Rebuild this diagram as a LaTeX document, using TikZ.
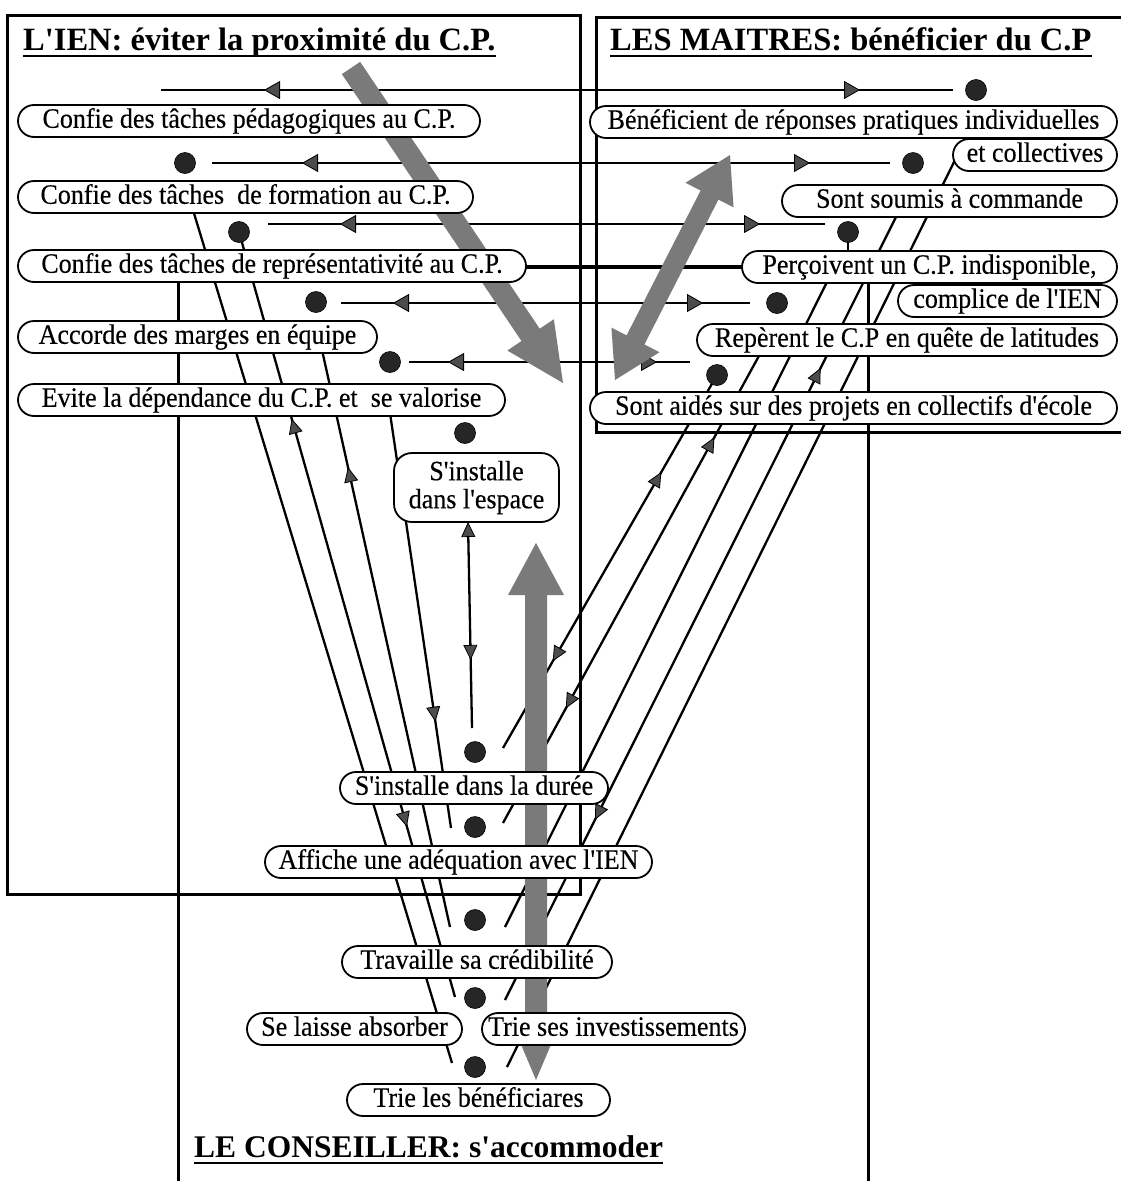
\documentclass[tikz,border=0pt]{standalone}
\usepackage{fontspec}
\setmainfont{Liberation Serif}[Ligatures=TeXOff,FakeStretch=0.93,FakeBold=0.3]
\newfontfamily\ttlfont{Liberation Serif}[Ligatures=TeXOff]
\usetikzlibrary{arrows.meta,calc,decorations.markings}
\tikzset{
  vtip/.tip={Triangle[length=15pt,width=14pt,fill=black!70,line width=0.8pt]},
  rtip/.tip={Triangle[length=16pt,width=18pt,fill=black!70,line width=0.8pt]},
  fa/.style={postaction={decorate,decoration={markings,mark=at position #1 with {\arrow{vtip}}}}},
  ba/.style={postaction={decorate,decoration={markings,mark=at position #1 with {\arrowreversed{vtip}}}}},
  fr/.style={postaction={decorate,decoration={markings,mark=at position #1 with {\arrow{rtip}}}}},
  br/.style={postaction={decorate,decoration={markings,mark=at position #1 with {\arrowreversed{rtip}}}}},
  lab/.style={draw,line width=1.8pt,fill=white,rounded corners=16pt,minimum height=32pt,inner xsep=4pt,inner ysep=0pt,text height=20pt,text depth=6.5pt,font=\fontsize{28}{29}\selectfont},
  espace/.style={draw,line width=1.8pt,fill=white,rounded corners=18pt,minimum width=165pt,minimum height=69pt,align=center,inner sep=2pt,font=\fontsize{28}{28}\selectfont},
  dotn/.style={circle,fill=black!85,draw=black,line width=0.6pt,minimum size=21pt,inner sep=0pt},
  rowline/.style={line width=1.8pt},
  vline/.style={line width=2.3pt},
  boxline/.style={line width=3pt},
  grayfill/.style={fill=black!52},
  ttl/.style={inner sep=0pt,anchor=base west,font=\ttlfont\fontsize{32.5}{34}\selectfont\bfseries},
  uline/.style={line width=2.6pt},
}
\begin{document}
\begin{tikzpicture}[x=1pt,y=-1pt]
\useasboundingbox (0,0) rectangle (1120,1181);
\fill[white] (0,0) rectangle (1120,1181);

% ---------- boxes ----------
\draw[boxline] (7,15) rectangle (580,894);
\draw[boxline] (596,17) rectangle (1140,432);
\draw[boxline] (178,1200) -- (178,267);
\draw[boxline] (868,267) -- (868,1200);
\draw[line width=4pt] (178,267) -- (868,267);

% ---------- coordinates ----------
\coordinate (r1a) at (161,90);  \coordinate (r1b) at (953,90);
\coordinate (r2a) at (212,163); \coordinate (r2b) at (890,163);
\coordinate (r3a) at (268,224); \coordinate (r3b) at (825,224);
\coordinate (r4a) at (341,303); \coordinate (r4b) at (750,303);
\coordinate (r5a) at (409,362); \coordinate (r5b) at (690,362);

\coordinate (la1) at (193,210); \coordinate (la2) at (452,1063);
\coordinate (lb2) at (455,997);
\coordinate (lf1) at (322,350); \coordinate (lf2) at (450,927);
\coordinate (lg1) at (390,413); \coordinate (lg2) at (451,828);
\coordinate (ev1) at (468,522); \coordinate (ev2) at (472,728);
\coordinate (ra2) at (503,748);
\coordinate (rb1) at (760,354); \coordinate (rb2) at (503,823);
\coordinate (rc1) at (828,280); \coordinate (rc2) at (505,927);
\coordinate (rd1) at (897,215); \coordinate (rd2) at (505,1000);
\coordinate (re1) at (955,160); \coordinate (re2) at (507,1067);

\path (185,163) coordinate (pdl2) (239,232) coordinate (pdl3) (316,302) coordinate (pdl4)
      (390,362) coordinate (pdl5) (465,433) coordinate (pdl6)
      (976,90) coordinate (pdr1) (913,163) coordinate (pdr2) (848,232) coordinate (pdr3)
      (777,303) coordinate (pdr4) (717,375) coordinate (pdr5)
      (475,752) coordinate (pd1) (475,827) coordinate (pd2) (475,920) coordinate (pd3)
      (475,998) coordinate (pd4) (475,1067) coordinate (pd5);

% ---------- row lines ----------
\draw[rowline,br=103pt,fr=699pt] (r1a) -- (r1b);
\draw[rowline,br=90pt,fr=598pt] (r2a) -- (r2b);
\draw[rowline,br=72pt,fr=492pt] (r3a) -- (r3b);
\draw[rowline,br=52pt,fr=362pt] (r4a) -- (r4b);
\draw[rowline,br=39pt,fr=248pt] (r5a) -- (r5b);

% ---------- left fan ----------
\draw[vline,ba=181pt] (la1) -- (la2);
\draw[vline,ba=194pt,fa=618pt] (pdl3) -- (lb2);
\draw[vline,ba=120pt] (lf1) -- (lf2);
\draw[vline,fa=312pt] (lg1) -- (lg2);
\draw[vline,{Triangle[length=15pt,width=14pt,fill=black!70,line width=0.8pt]}-,fa=138pt] (ev1) -- (ev2);

% ---------- right fan ----------
\draw[vline,ba=112pt,fa=330pt] (pdr5) -- (ra2);
\draw[vline,ba=95pt,fa=404pt] (rb1) -- (rb2);
\draw[vline] (rc1) -- (rc2);
\draw[vline,ba=171pt,fa=676pt] (rd1) -- (rd2);
\draw[vline] (re1) -- (re2);

% ---------- gray arrows ----------
\coordinate (g1a) at (351,68); \coordinate (g1b) at (563,383);
\coordinate (g1h) at ($(g1b)!58pt!(g1a)$);
\fill[grayfill] ($(g1a)!11pt!90:(g1b)$) -- ($(g1h)!11pt!90:(g1b)$) -- ($(g1h)!28pt!90:(g1b)$)
  -- (g1b) -- ($(g1h)!28pt!-90:(g1b)$) -- ($(g1h)!11pt!-90:(g1b)$) -- ($(g1a)!11pt!-90:(g1b)$) -- cycle;

\coordinate (g2a) at (615,380); \coordinate (g2b) at (730,155);
\coordinate (g2ha) at ($(g2a)!45pt!(g2b)$);
\coordinate (g2hb) at ($(g2b)!45pt!(g2a)$);
\fill[grayfill] (g2a) -- ($(g2ha)!27pt!90:(g2b)$) -- ($(g2ha)!10pt!90:(g2b)$)
  -- ($(g2hb)!10pt!-90:(g2a)$) -- ($(g2hb)!27pt!-90:(g2a)$) -- (g2b)
  -- ($(g2hb)!27pt!90:(g2a)$) -- ($(g2hb)!10pt!90:(g2a)$)
  -- ($(g2ha)!10pt!-90:(g2b)$) -- ($(g2ha)!27pt!-90:(g2b)$) -- cycle;

\fill[grayfill] (536,543) -- (564,595) -- (547,595) -- (547,1035) -- (555,1035) -- (536,1080)
  -- (517,1035) -- (525,1035) -- (525,595) -- (508,595) -- cycle;

% ---------- nodes ----------
\node[lab,minimum width=462pt] (n1) at (249,121) {Confie des tâches pédagogiques au C.P.};
\node[lab,minimum width=455pt] (n2) at (245.5,197) {Confie des tâches~ de formation au C.P.};
\node[lab,minimum width=508pt] (n3) at (272,266) {Confie des tâches de représentativité au C.P.};
\node[lab,minimum width=359pt] (n4) at (197.5,337) {Accorde des marges en équipe};
\node[lab,minimum width=487pt] (n5) at (261.5,400) {Evite la dépendance du C.P. et~ se valorise};
\node[espace] (n6) at (476.5,487.5) {S'installe\\dans l'espace};
\node[lab,minimum width=527pt] (n7) at (853.5,122) {Bénéficient de réponses pratiques individuelles};
\node[lab,minimum width=164pt] (n8) at (1035,155) {et collectives};
\node[lab,minimum width=335pt] (n9) at (949.5,201) {Sont soumis à commande};
\node[lab,minimum width=375pt] (n10) at (929.5,267) {Perçoivent un C.P. indisponible,};
\node[lab,minimum width=219pt] (n11) at (1007.5,301) {complice de l'IEN};
\node[lab,minimum width=420pt] (n12) at (907,340) {Repèrent le C.P en quête de latitudes};
\node[lab,minimum width=527pt] (n13) at (853.5,408) {Sont aidés sur des projets en collectifs d'école};
\node[lab,minimum width=268pt] (n14) at (474,788) {S'installe dans la durée};
\node[lab,minimum width=387pt] (n15) at (458.5,862) {Affiche une adéquation avec l'IEN};
\node[lab,minimum width=270pt] (n16) at (477,962) {Travaille sa crédibilité};
\node[lab,minimum width=215pt] (n17) at (354.5,1029) {Se laisse absorber};
\node[lab,minimum width=263pt] (n18) at (613.5,1029) {Trie ses investissements};
\node[lab,minimum width=263pt] (n19) at (478.5,1100) {Trie les bénéficiares};

% short link dot -> node
\draw[vline] (pdr3) -- (pdr3 |- n10.north);

% ---------- dots ----------
\foreach \p in {dl2,dl3,dl4,dl5,dl6,dr1,dr2,dr3,dr4,dr5,d1,d2,d3,d4,d5}
  \node[dotn] (\p) at (p\p) {};

% ---------- titles ----------
\node[ttl] (t1) at (23,50) {L'IEN: éviter la proximité du C.P.};
\draw[uline] ([yshift=-6pt]t1.base west) -- ([yshift=-6pt]t1.base east);
\node[ttl] (t2) at (610,50) {LES MAITRES: bénéficier du C.P};
\draw[uline] ([yshift=-6pt]t2.base west) -- ([yshift=-6pt]t2.base east);
\node[ttl,font=\ttlfont\fontsize{31.5}{33}\selectfont\bfseries] (t3) at (194,1157) {LE CONSEILLER: s'accommoder};
\draw[uline] ([yshift=-6pt]t3.base west) -- ([yshift=-6pt]t3.base east);
\end{tikzpicture}
\end{document}
